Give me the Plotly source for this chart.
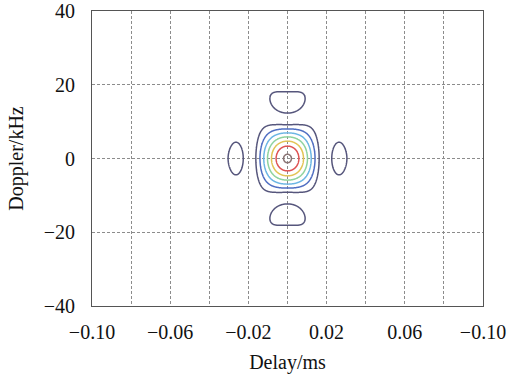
import numpy as np
import plotly.graph_objects as go

# Axis ticks / labels
x_tickvals = [-0.10, -0.08, -0.06, -0.04, -0.02, 0.0, 0.02, 0.04, 0.06, 0.08, 0.10]
x_ticktext = ["\u22120.10", "", "\u22120.06", "", "\u22120.02", "", "0.02", "", "0.06", "", "\u22120.10"]
y_tickvals = [-40, -20, 0, 20, 40]
y_ticktext = ["\u221240", "\u221220", "0", "20", "40"]

# Ambiguity-function model parameters
null_delay_ms = 0.0187      # first null in delay
null_doppler_khz = 10.5     # first null in Doppler
taper_ms = 0.06             # delay taper (lowers delay sidelobes)
doppler_warp = 0.35         # bends the Doppler sidelobes into a bean shape
contour_levels = [0.14, 0.28, 0.42, 0.56, 0.70, 0.84, 0.98]
level_colors = ["#56567c", "#4f6ec2", "#6cb6e4", "#8ed39e", "#e2c456", "#de5252", "#8a7474"]

delay = np.linspace(-0.1, 0.1, 801)
doppler = np.linspace(-40, 40, 801)
T, F = np.meshgrid(delay, doppler)
g = np.abs(np.sinc(T / null_delay_ms)) * np.exp(-(T / taper_ms) ** 2)
gate = np.clip((F / null_doppler_khz) ** 2, 0, 1)
b_eff = null_doppler_khz * (1 + doppler_warp * gate * (T / null_delay_ms) ** 2)
h = np.abs(np.sinc(F / b_eff))
Z = g * h

fig = go.Figure()
for lev, col in zip(contour_levels, level_colors):
    fig.add_trace(go.Contour(
        x=delay, y=doppler, z=Z,
        contours=dict(start=lev, end=lev, size=1, coloring="lines"),
        colorscale=[[0, col], [1, col]],
        showscale=False,
        line=dict(width=1.5),
        hoverinfo="skip",
    ))

font = dict(family="Liberation Serif, Times New Roman, serif", size=20, color="#111111")
grid = dict(showgrid=True, gridcolor="#8c8c8c", gridwidth=1, griddash="3px,2px",
            zeroline=False, showline=True, linecolor="#555555", linewidth=1, mirror=True,
            ticks="outside", tickcolor="rgba(0,0,0,0)", tickfont=font, automargin=False)

fig.update_layout(
    width=509, height=378,
    margin=dict(l=92, r=26, t=11, b=72),
    paper_bgcolor="white", plot_bgcolor="white",
    showlegend=False,
    xaxis=dict(range=[-0.1, 0.1], tickvals=x_tickvals, ticktext=x_ticktext, ticklen=8,
               title=dict(text="Delay/ms", font=font, standoff=12), **grid),
    yaxis=dict(range=[-40, 40], tickvals=y_tickvals, ticktext=y_ticktext, ticklen=12,
               title=dict(text="Doppler/kHz", font=font, standoff=14), **grid),
)

fig.write_html("out.html")
